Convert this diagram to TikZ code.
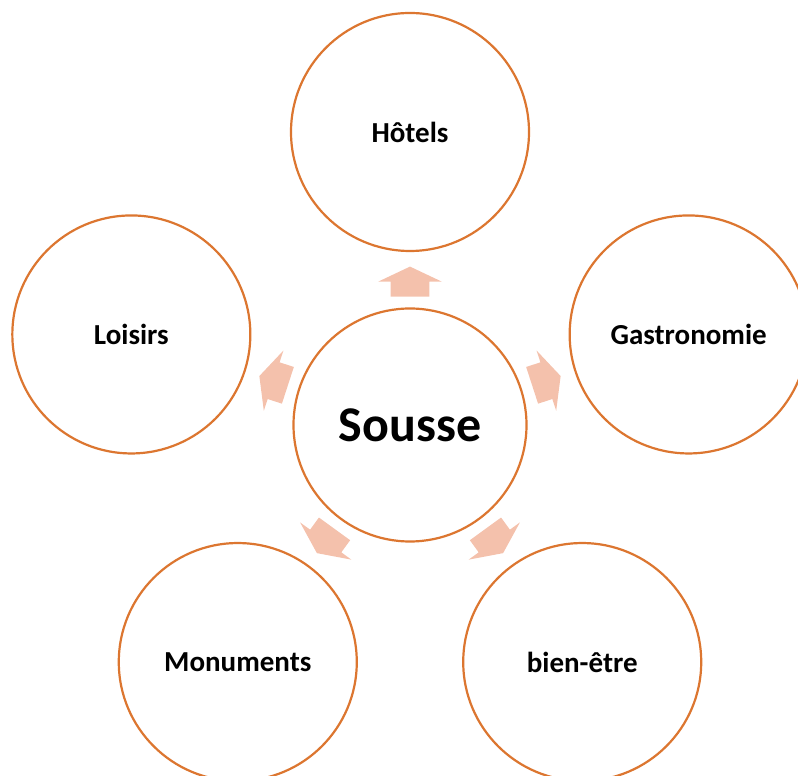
\documentclass[tikz,border=0pt]{standalone}
\usepackage{fontspec}
\setmainfont{Carlito}
\usetikzlibrary{calc}
\definecolor{ringcol}{RGB}{220,118,48}
\definecolor{arrowcol}{RGB}{244,193,172}
\tikzset{
  ring/.style={circle,draw=ringcol,line width=2.2pt,fill=white,inner sep=0pt,
    minimum size=238pt,font=\bfseries\fontsize{29}{34}\selectfont},
  hub/.style={ring,minimum size=233pt,font=\bfseries\fontsize{50}{60}\selectfont},
  blockarrow/.pic={\fill[arrowcol] (0,15) -- (31.7,0) -- (19.3,0) -- (19.3,-15)
     -- (-19.3,-15) -- (-19.3,0) -- (-31.7,0) -- cycle;}
}
\begin{document}
\begin{tikzpicture}[x=1pt,y=1pt]
\useasboundingbox (0,0) rectangle (798,776);
\begin{scope}
\clip (0,0) rectangle (798,776);
\node[hub] (c) at (410,351) {Sousse};
\node[ring] (h) at ($(c)+(90:293)$) {Hôtels};
\node[ring] (g) at ($(c)+(18:293)$) {Gastronomie};
\node[ring] (l) at ($(c)+(162:293)$) {Loisirs};
\node[ring] (m) at ($(c)+(-126:293)$) {Monuments};
\node[ring] (b) at ($(c)+(-54:293)$) {bien-être};
\pic[rotate=0] at ($(c)!143.4pt!(h)$) {blockarrow};
\pic[rotate=-72] at ($(c)!143.4pt!(g)$) {blockarrow};
\pic[rotate=72] at ($(c)!143.4pt!(l)$) {blockarrow};
\pic[rotate=144] at ($(c)!143.4pt!(m)$) {blockarrow};
\pic[rotate=-144] at ($(c)!143.4pt!(b)$) {blockarrow};
\end{scope}
\end{tikzpicture}
\end{document}
